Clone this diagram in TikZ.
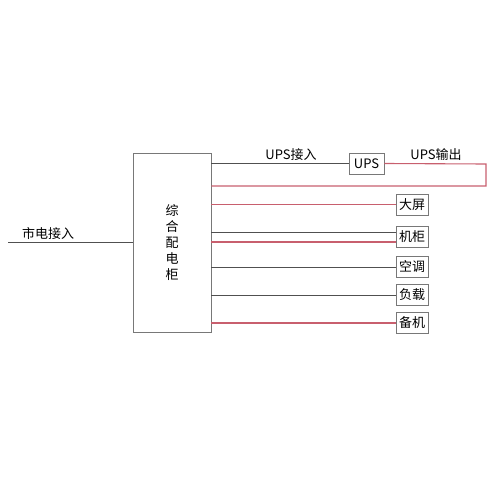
\documentclass[tikz,border=0pt]{standalone}
\usepackage{fontspec}
\usepackage{tikz}
\usetikzlibrary{positioning}
\newfontfamily\cjk{Noto Sans CJK SC}
\definecolor{feedred}{RGB}{200,95,110}
\definecolor{feedgray}{RGB}{80,80,80}
\definecolor{boxgray}{RGB}{120,120,120}

\begin{document}
\begin{tikzpicture}[x=1pt,y=-1pt,
    every node/.style={font=\cjk\fontsize{13}{16}\selectfont, inner sep=0pt},
    devbox/.style={draw=boxgray, line width=0.9pt, minimum width=32pt, minimum height=21pt},
    redfeed/.style={draw=feedred, line width=1.1pt},
    grayfeed/.style={draw=feedgray, line width=0.9pt}]
    \useasboundingbox (0,0) rectangle (500,500);

    \node[draw=boxgray, line width=0.9pt, minimum width=78pt, minimum height=179pt] at (172,242.5) (cab) {};
    \node[align=center, font=\cjk\fontsize{13}{16}\selectfont] at (172,243) (cabtext) {综\\合\\配\\电\\柜};

    \coordinate (mains) at (8,242);
    \draw[grayfeed] (mains) -- (cab.west |- mains);
    \node[anchor=south, inner sep=2pt] at (48,242) (mainslabel) {市电接入};

    \node[devbox, minimum width=35pt] at (366.5,163.5) (ups) {UPS};
    \draw[grayfeed] (cab.east |- ups.west) -- (ups.west);
    \node at (291,155) (upsin) {UPS接入};
    \node at (436,155) (upsout) {UPS输出};
    \coordinate (turn1) at (486,164);
    \coordinate (turn2) at (486,186);
    \draw[redfeed] (ups.east) -- (turn1) -- (turn2) -- (cab.east |- turn2);

    \node[devbox] at (412,204.5) (screen) {大屏};
    \node[devbox] at (412,237) (rack) {机柜};
    \node[devbox] at (412,267) (aircon) {空调};
    \node[devbox] at (412,295) (load) {负载};
    \node[devbox] at (412,323) (spare) {备机};

    \draw[redfeed] (cab.east |- screen.west) -- (screen.west);
    \draw[grayfeed] ([yshift=5pt]cab.east |- rack.west) -- ([yshift=5pt]rack.west);
    \draw[redfeed] ([yshift=-5pt]cab.east |- rack.west) -- ([yshift=-5pt]rack.west);
    \draw[grayfeed] (cab.east |- aircon.west) -- (aircon.west);
    \draw[grayfeed] (cab.east |- load.west) -- (load.west);
    \draw[redfeed] (cab.east |- spare.west) -- (spare.west);
\end{tikzpicture}
\end{document}
